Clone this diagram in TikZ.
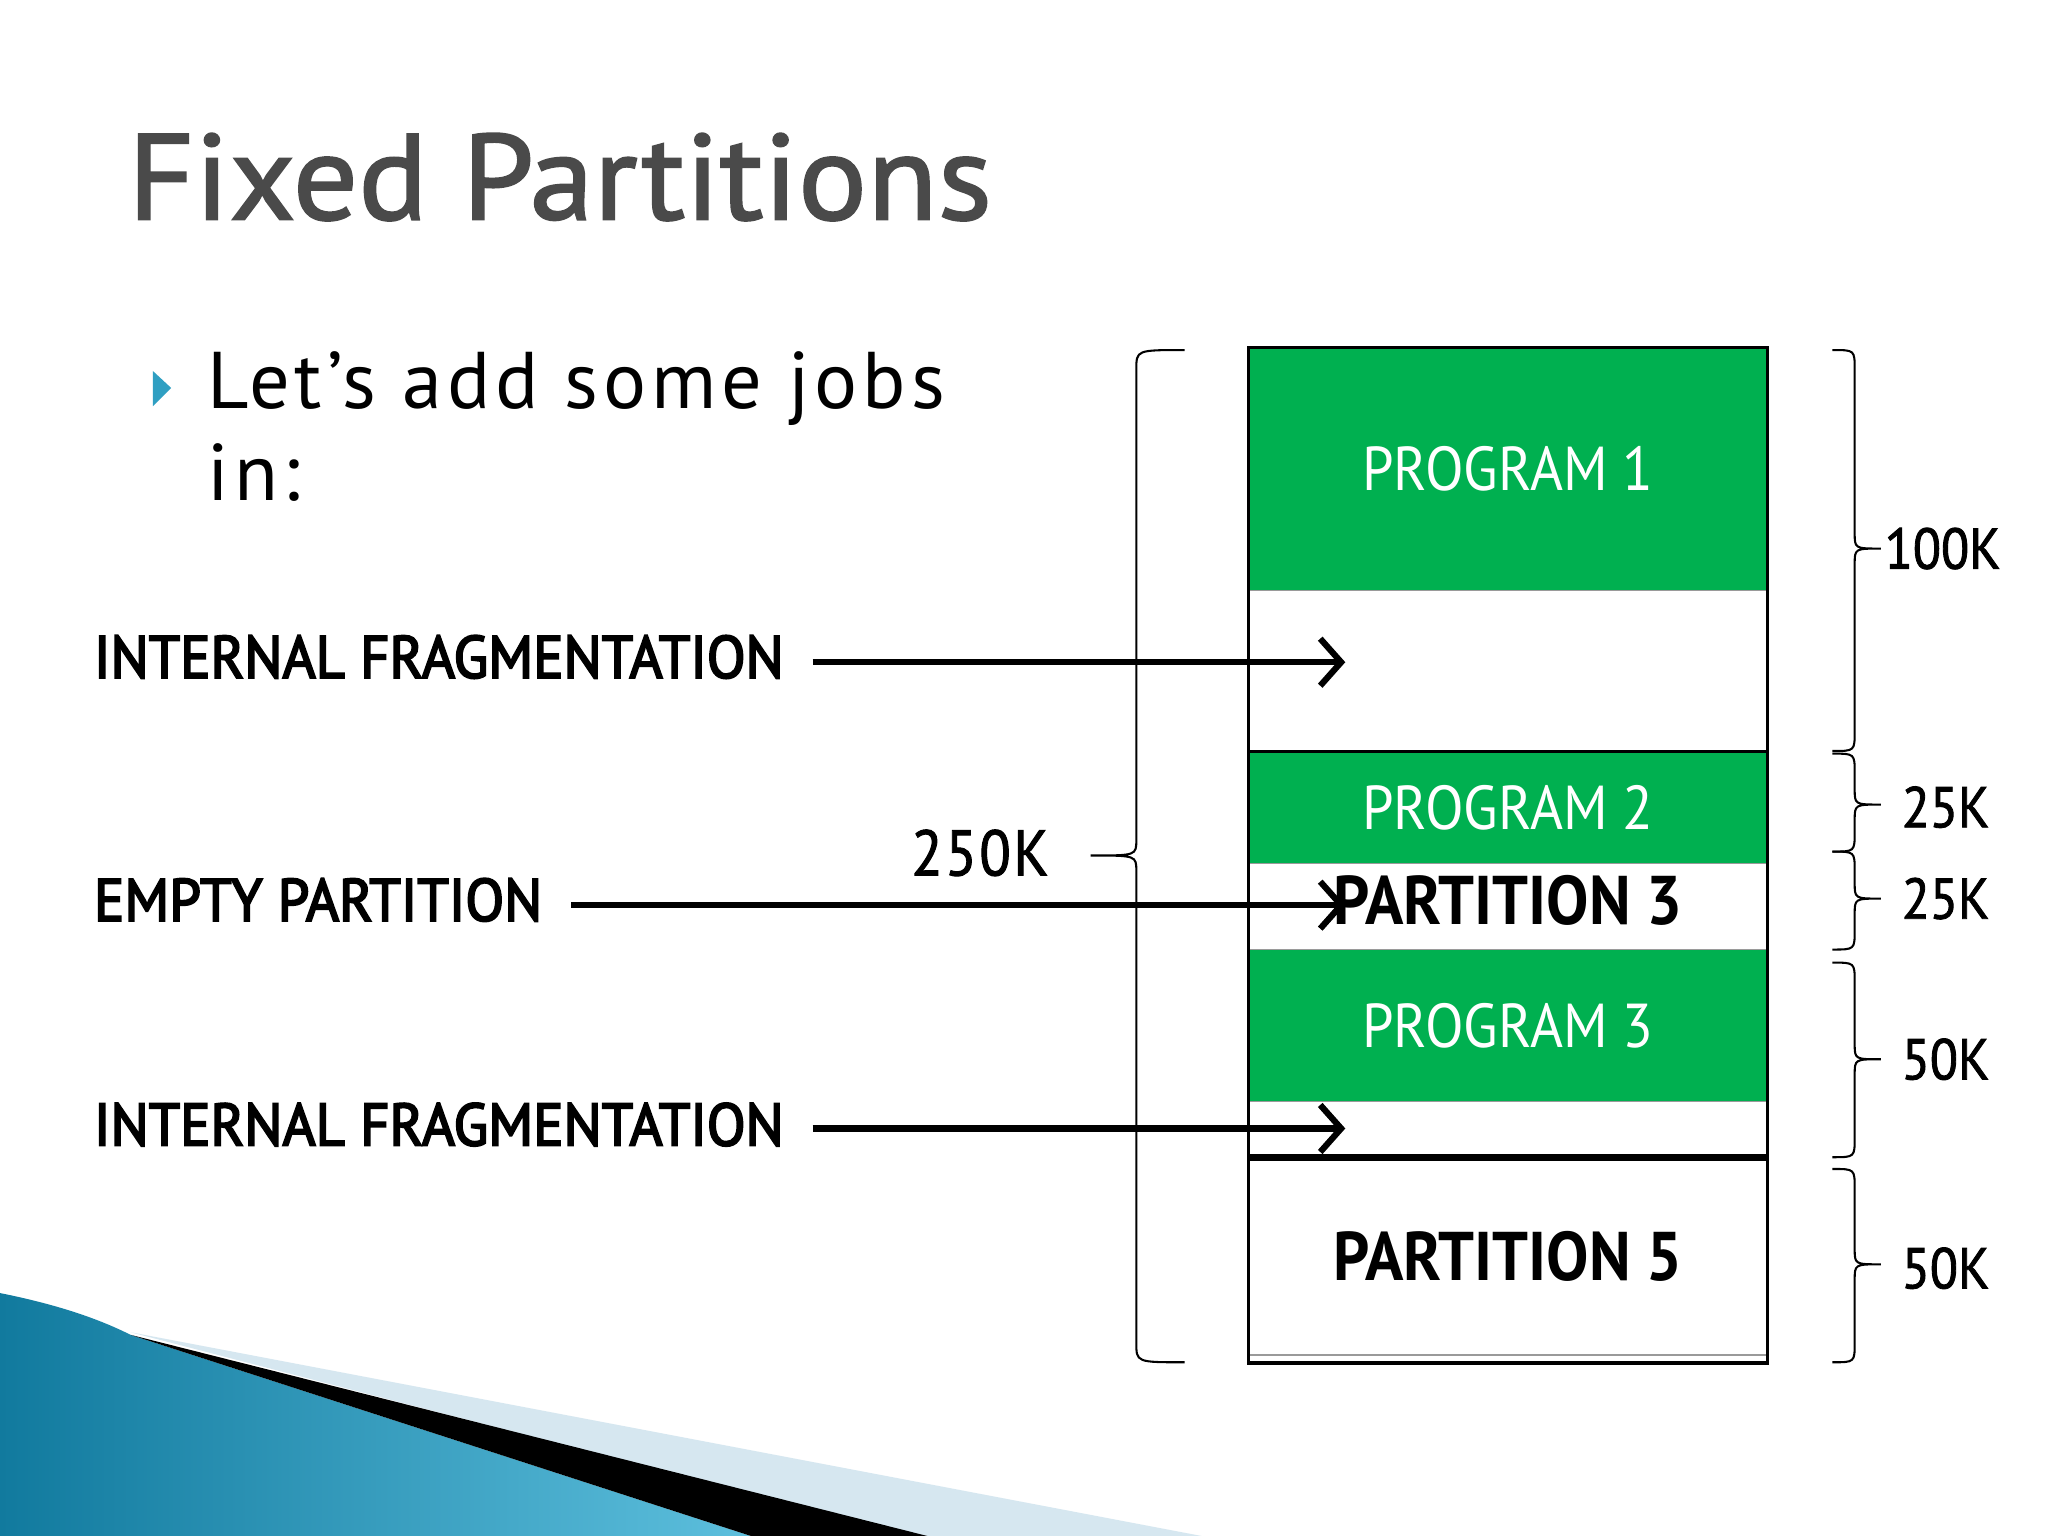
\documentclass[tikz,border=0pt]{standalone}
\usepackage{fontspec}
\setmainfont{PT Sans}
\newfontfamily\titlesans[FakeStretch=1.06, FakeBold=1.6]{PT Sans}
\newfontfamily\progsans[FakeStretch=0.91]{PT Sans}
\newfontfamily\partsans[FakeStretch=0.92]{PT Sans}
\newfontfamily\lblsans[FakeStretch=0.95, FakeBold=3.2]{PT Sans}
\newfontfamily\sizesans[FakeStretch=0.9, FakeBold=1.5]{PT Sans}
\usetikzlibrary{arrows.meta,positioning}
\definecolor{progreen}{HTML}{00B050}
\definecolor{titlegray}{HTML}{4A4A4A}
\definecolor{bullet}{HTML}{2F9FC2}
\definecolor{tealdark}{HTML}{117A9E}
\definecolor{teallight}{HTML}{5DBFDD}
\definecolor{paleblue}{HTML}{D6E7F0}
\definecolor{holeline}{HTML}{9A9A9A}
% end x, spine x, tip x, top y, tip y, bottom y
\newcommand{\sizebrace}[6]{%
  \draw[brc] (#1,#4) .. controls (#2,#4) .. (#2,#4+15) -- (#2,#5-12)
    .. controls (#2,#5) .. (#3,#5) .. controls (#2,#5) .. (#2,#5+12)
    -- (#2,#6-15) .. controls (#2,#6) .. (#1,#6);}

\begin{document}
\begin{tikzpicture}[x=0.01cm, y=-0.01cm,
    >={Straight Barb[length=1.6mm,width=3.6mm]},
    every node/.style={inner sep=0pt, outer sep=0pt},
    progblock/.style={fill=progreen, text=white, minimum width=3.97cm,
      font=\progsans\fontsize{13.5}{15}\selectfont},
    holeblock/.style={fill=white, draw=holeline, line width=0.3pt, minimum width=3.97cm,
      font=\partsans\bfseries\fontsize{15}{17}\selectfont},
    lbl/.style={anchor=base west, font=\lblsans\fontsize{13}{15}\selectfont},
    sz/.style={anchor=west, font=\sizesans\fontsize{12.5}{14}\selectfont},
    jobarrow/.style={->, line width=1.35pt, shorten <=0.22cm},
    brc/.style={line width=0.45pt}]
  \useasboundingbox (0,0) rectangle (1568,1176);
  \fill[white] (0,0) rectangle (1568,1176);

  % slide corner
  \fill[paleblue] (100,1020) -- (920,1176) -- (700,1176) -- cycle;
  \shade[left color=tealdark, right color=teallight]
    (0,990) .. controls (50,1000) and (80,1012) .. (100,1022) -- (575,1176) -- (0,1176) -- cycle;
  \fill[black] (100,1022) -- (710,1176) -- (575,1176) -- cycle;

  % title and bullet
  \node[anchor=base west, text=titlegray, font=\titlesans\fontsize{26.5}{30}\selectfont] (title) at (98,168) {Fixed Partitions};
  \fill[bullet] (117,284) -- (131,297) -- (117,311) -- cycle;
  \node[anchor=base west, font=\fontsize{17.5}{20}\selectfont\addfontfeature{LetterSpace=6}] (jobsa) at (159,313) {Let’s add some jobs};
  \node[anchor=base west, font=\fontsize{17.5}{20}\selectfont\addfontfeature{LetterSpace=6}] (jobsb) at (159,383) {in:};

  % memory
  \node[progblock, minimum height=1.86cm, anchor=north west] (prog1) at (956,266) {PROGRAM 1};
  \node[holeblock, minimum height=1.23cm, below=0pt of prog1] (part1) {};
  \node[progblock, minimum height=0.86cm, below=0pt of part1] (prog2) {PROGRAM 2};
  \node[holeblock, minimum height=0.66cm, text depth=0.1cm, below=0pt of prog2] (part3) {PARTITION 3};
  \node[progblock, minimum height=1.16cm, below=0pt of part3] (prog3) {PROGRAM 3};
  \node[holeblock, minimum height=0.43cm, below=0pt of prog3] (part4) {};
  \node[holeblock, minimum height=1.51cm, below=0pt of part4] (part5) {PARTITION 5};
  \draw[line width=0.8pt] (prog1.north west) rectangle ([yshift=-0.06cm]part5.south east);
  \draw[line width=0.7pt] (part1.south west) -- (part1.south east);
  \draw[line width=1.4pt] (part4.south west) -- (part4.south east);

  % labels and arrows
  \node[lbl] (ifrag1) at (72,519) {INTERNAL FRAGMENTATION};
  \node[lbl] (empty) at (72,705) {EMPTY PARTITION};
  \node[lbl] (ifrag2) at (72,877) {INTERNAL FRAGMENTATION};
  \coordinate (tip1) at (1030,507);
  \coordinate (tip3) at (1030,693);
  \coordinate (tip4) at (1030,864);
  \draw[jobarrow] (ifrag1.east |- tip1) -- (tip1);
  \draw[jobarrow] (empty.east |- tip3) -- (tip3);
  \draw[jobarrow] (ifrag2.east |- tip4) -- (tip4);

  % sizes
  \sizebrace{907}{870}{835}{268}{655}{1043}
  \node[anchor=east, font=\sizesans\fontsize{14}{16}\selectfont\addfontfeature{LetterSpace=4}] (total) at (803,653) {250K};
  \sizebrace{1403}{1420}{1440}{268}{420}{575}
  \sizebrace{1403}{1420}{1440}{577}{616}{652}
  \sizebrace{1403}{1420}{1440}{652}{688}{727}
  \sizebrace{1403}{1420}{1440}{737}{811}{886}
  \sizebrace{1403}{1420}{1440}{895}{968}{1043}
  \node[sz] (k100) at (1443,420) {100K};
  \node[sz] (k25a) at (1456,618) {25K};
  \node[sz] (k25b) at (1456,688) {25K};
  \node[sz] (k50a) at (1456,811) {50K};
  \node[sz] (k50b) at (1456,971) {50K};
\end{tikzpicture}
\end{document}
